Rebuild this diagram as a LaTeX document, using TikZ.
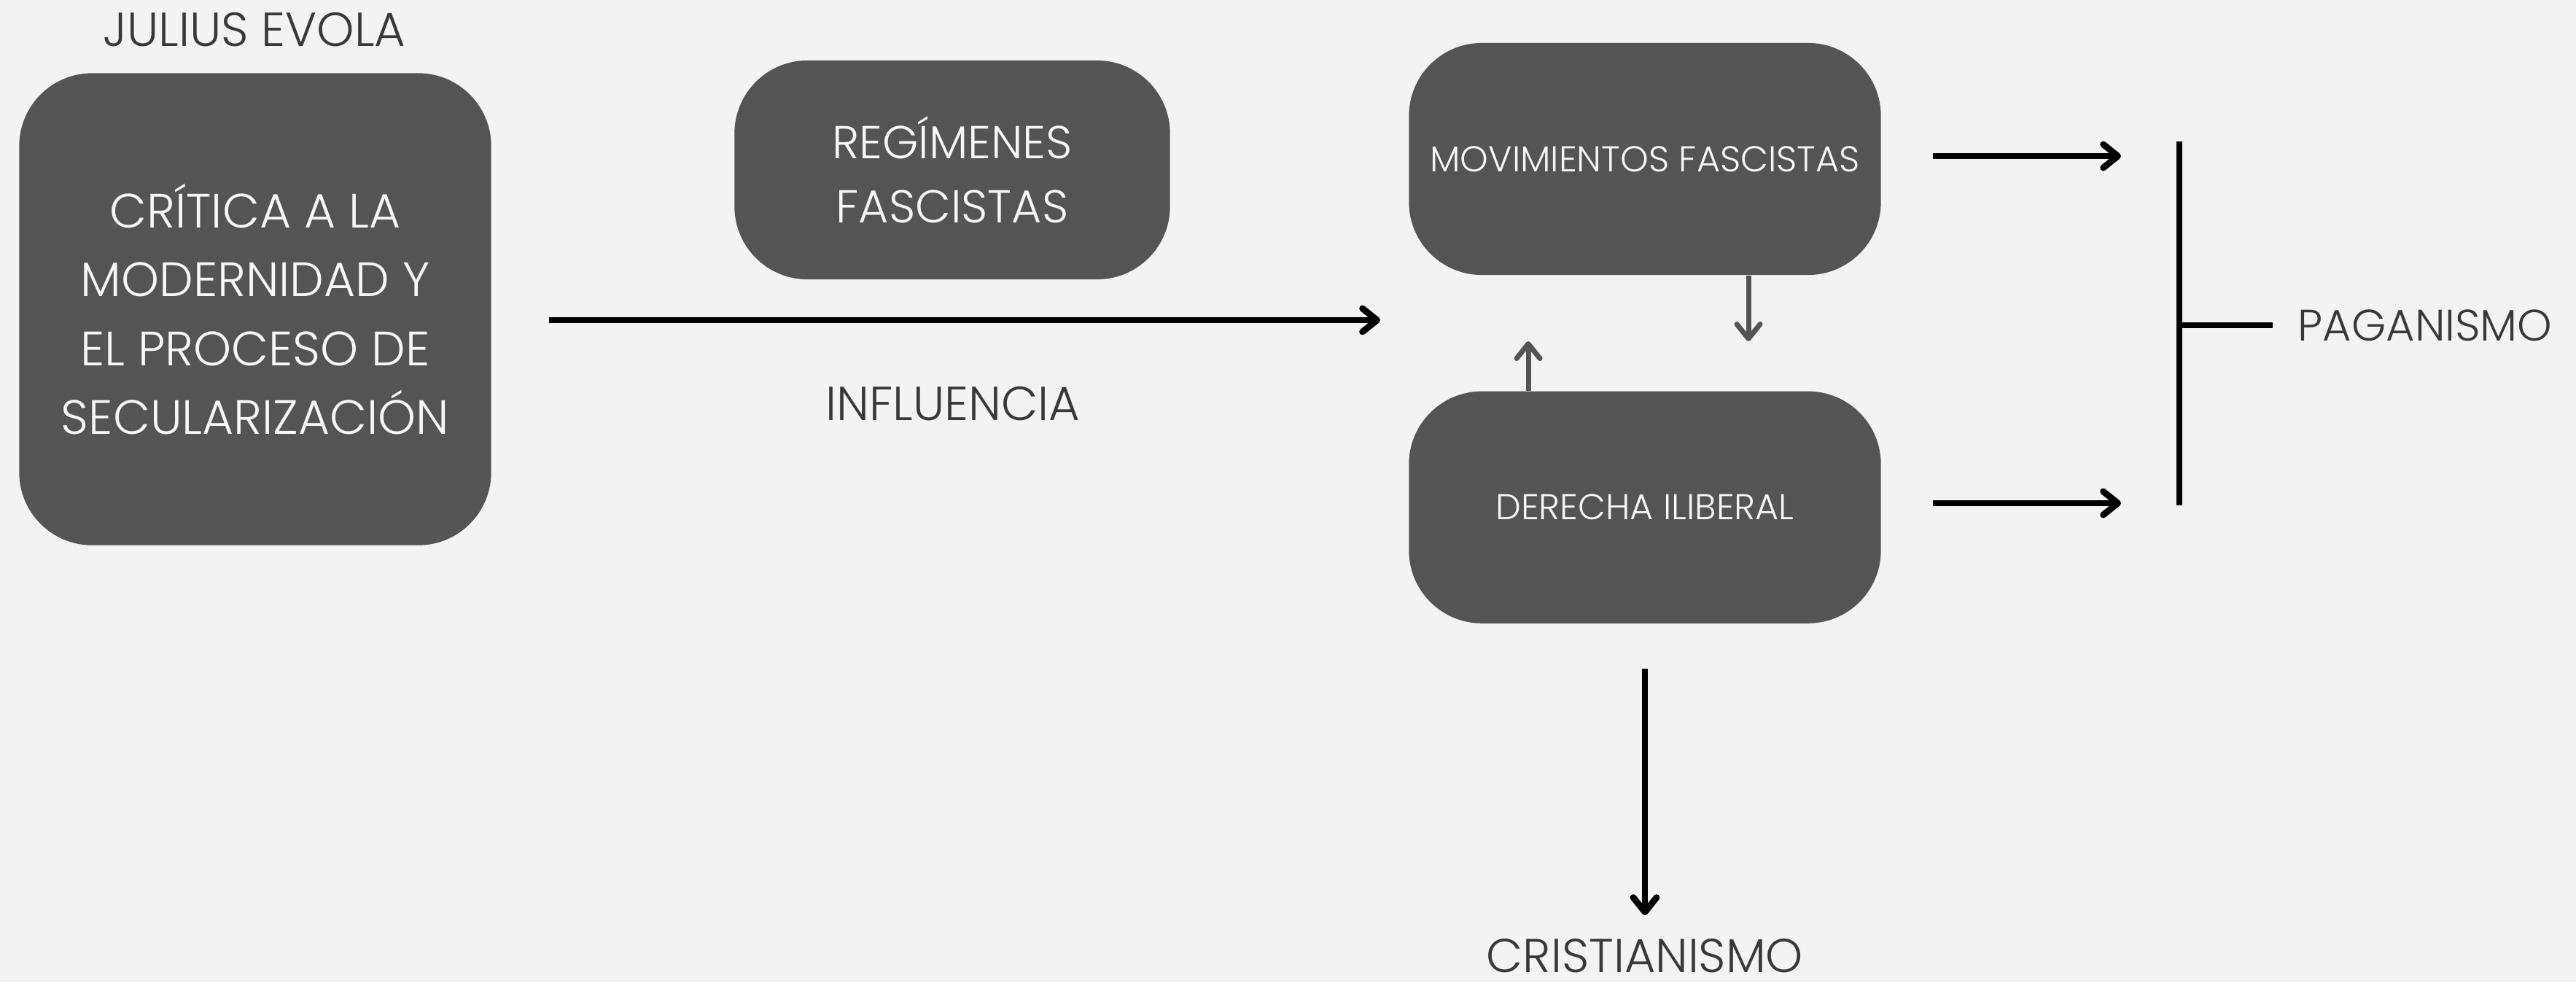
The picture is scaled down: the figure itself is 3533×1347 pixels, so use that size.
\documentclass[tikz,border=0pt]{standalone}
\usepackage{fontspec}
\setmainfont{Poppins}[UprightFont=* Light]
\usetikzlibrary{arrows.meta,positioning}
\definecolor{canvas}{HTML}{F3F3F3}
\definecolor{boxgray}{HTML}{545454}
\definecolor{ink}{HTML}{383838}
\definecolor{paper}{HTML}{F7F7F7}
\tikzset{
  box/.style={fill=boxgray,rounded corners=1cm,text=paper,align=center,inner sep=0pt,minimum width=6.47cm},
  bigtext/.style={font=\fontsize{18.8}{26.9}\selectfont},
  midtext/.style={font=\fontsize{18}{25}\selectfont},
  smalltext/.style={font=\fontsize{14}{20}\selectfont},
  plaintext/.style={text=ink,font=\fontsize{18.6}{20}\selectfont,inner sep=0pt},
  arr/.style={-{Straight Barb[length=2mm,width=3.2mm,round]},line width=2.5pt,draw=black},
  grayarr/.style={arr,line width=2pt,draw=boxgray},
  bar/.style={line width=2.1pt,draw=black}
}
\begin{document}
\begin{tikzpicture}[x=0.01cm,y=-0.01cm]
\fill[canvas] (0,0) rectangle (3533,1347);
% left column
\node[plaintext] (evola) at (349,41) {JULIUS EVOLA};
\node[box,bigtext,minimum height=6.47cm] (crit) at (350,424) {CRÍTICA A LA\\MODERNIDAD Y\\EL PROCESO DE\\SECULARIZACIÓN};
% middle
\node[box,midtext,minimum width=5.97cm,minimum height=3cm] (reg) at (1306,233) {REGÍMENES\\FASCISTAS};
\node[plaintext] (infl) at (1307,554) {INFLUENCIA};
\coordinate (inflA) at (753,439);
\coordinate (inflB) at (1893,439);
\draw[arr] (inflA) -- (inflB);
% right column
\node[box,smalltext,minimum height=3.18cm] (mov) at (2256,218) {MOVIMIENTOS FASCISTAS};
\node[box,smalltext,minimum height=3.18cm,below=1.58cm of mov] (der) {DERECHA ILIBERAL};
\coordinate (downtip) at (2398,468);
\coordinate (uptip) at (2096,468);
\draw[grayarr] (downtip |- mov.south) -- (downtip);
\draw[grayarr] (uptip |- der.north) -- (uptip);
\node[plaintext,font=\fontsize{18.5}{20}\selectfont] (cris) at (2256,1311) {CRISTIANISMO};
\draw[arr,shorten <=0.61cm,shorten >=0.32cm] (der) -- (cris);
% bracket
\node[plaintext,font=\fontsize{17.2}{20}\selectfont,anchor=west] (pag) at (3151,446) {PAGANISMO};
\coordinate (bt) at (2989,194);
\coordinate (bb) at (2989,693);
\coordinate (pa1) at (2909,214);
\coordinate (pa2) at (2909,690);
\draw[arr,shorten <=0.71cm] (mov.east |- pa1) -- (pa1);
\draw[arr,shorten <=0.71cm] (der.east |- pa2) -- (pa2);
\draw[bar] (bt) -- (bb);
\draw[bar,shorten >=0.34cm] (bt |- pag.west) -- (pag.west);
\end{tikzpicture}
\end{document}
